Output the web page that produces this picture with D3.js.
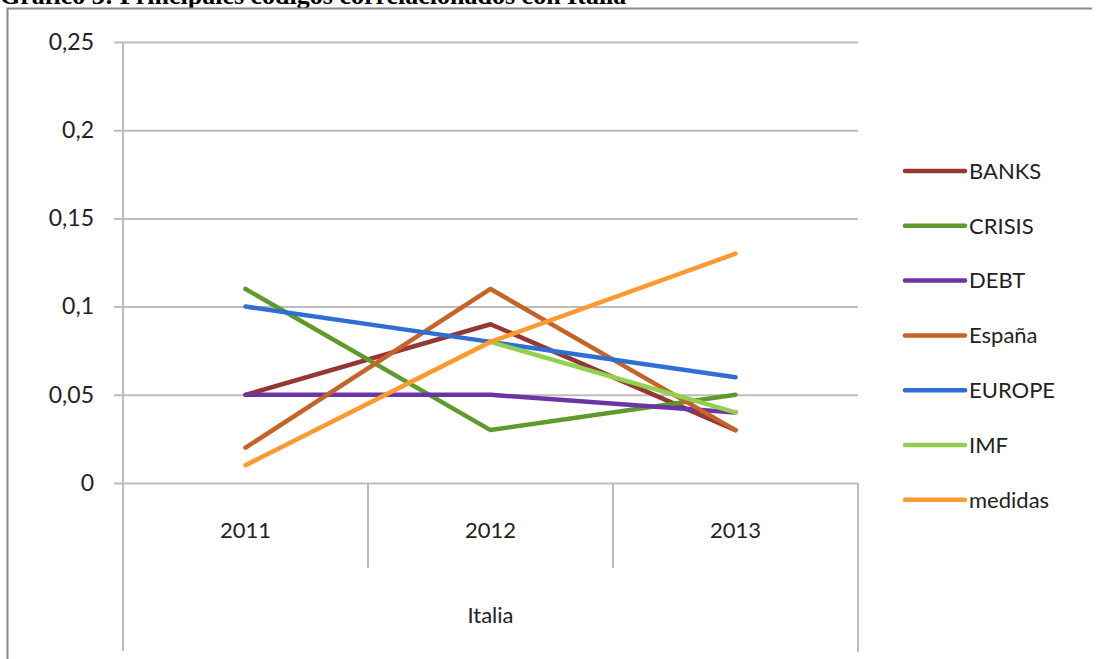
<!DOCTYPE html>
<html>
<head>
<meta charset="utf-8">
<script src="https://cdn.jsdelivr.net/npm/d3@7"></script>
<style>
  body { margin: 0; background: #fff; }
  svg text { font-family: Lato, "Open Sans", sans-serif; fill: #222; }
</style>
</head>
<body>
<svg id="chart" width="1097" height="659"></svg>
<script>
var years = ["2011", "2012", "2013"];
var yTicks = [0, 0.05, 0.1, 0.15, 0.2, 0.25];
var seriesNames = ["BANKS", "CRISIS", "DEBT", "España", "EUROPE", "IMF", "medidas"];
var seriesColors = ["#953735", "#5E9B2C", "#6B35A6", "#C46428", "#2F6ED3", "#92D050", "#FF9933"];
var banks = [0.05, 0.09, 0.03];
var crisis = [0.11, 0.03, 0.05];
var debt = [0.05, 0.05, 0.04];
var espana = [0.02, 0.11, 0.03];
var europe = [0.10, 0.08, 0.06];
var imf = [null, 0.08, 0.04];
var medidas = [0.01, 0.08, 0.13];
var seriesValues = [banks, crisis, debt, espana, europe, imf, medidas];

var svg = d3.select("#chart");

// clipped title of the page above the chart
svg.append("text")
  .attr("x", 0).attr("y", 4)
  .style("font-family", "'Liberation Serif', serif")
  .style("font-weight", "bold")
  .style("font-size", "26px")
  .style("fill", "#000")
  .text("Gráfico 3: Principales códigos correlacionados con Italia");

// outer frame (left + top)
svg.append("path")
  .attr("d", "M7.5,659 V8.5 H1092")
  .attr("fill", "none").attr("stroke", "#8a8a8a").attr("stroke-width", 2);

var plotLeft = 123, plotRight = 858, plotTop = 42, plotBottom = 483;

var x = d3.scaleBand().domain(years).range([plotLeft, plotRight]);
var y = d3.scaleLinear().domain([0, 0.25]).range([plotBottom, plotTop]);

var fmt = function(d) { return String(d).replace(".", ","); };

// gridlines + y labels
var yAxis = d3.axisLeft(y).tickValues(yTicks).tickFormat(fmt)
  .tickSize(-(plotRight - plotLeft) - 9).tickPadding(20);
var gy = svg.append("g").attr("transform", "translate(" + (plotLeft - 9) + ",0)").call(yAxis);
gy.select(".domain").remove();
gy.selectAll(".tick line").attr("stroke", "#bdbdbd").attr("stroke-width", 2);
gy.selectAll(".tick text").style("font-size", "23px").attr("fill", "#333").attr("dy", "0.32em");

// vertical axis line
svg.append("line")
  .attr("x1", plotLeft).attr("x2", plotLeft).attr("y1", plotTop).attr("y2", 651)
  .attr("stroke", "#bdbdbd").attr("stroke-width", 2);

// category dividers
years.forEach(function(yr, i) {
  if (i > 0) {
    svg.append("line")
      .attr("x1", x(yr)).attr("x2", x(yr)).attr("y1", plotBottom).attr("y2", 568)
      .attr("stroke", "#bdbdbd").attr("stroke-width", 2);
  }
  svg.append("text")
    .attr("x", x(yr) + x.bandwidth() / 2).attr("y", 530)
    .attr("text-anchor", "middle").attr("dy", "0.35em")
    .style("font-size", "22px").attr("fill", "#333")
    .text(yr);
});
svg.append("line")
  .attr("x1", plotRight).attr("x2", plotRight).attr("y1", plotBottom).attr("y2", 652)
  .attr("stroke", "#bdbdbd").attr("stroke-width", 2);

svg.append("text")
  .attr("x", (plotLeft + plotRight) / 2).attr("y", 615)
  .attr("text-anchor", "middle").attr("dy", "0.35em")
  .style("font-size", "22px").attr("fill", "#333")
  .text("Italia");

// series lines
var line = d3.line()
  .defined(function(d) { return d != null; })
  .x(function(d, i) { return x(years[i]) + x.bandwidth() / 2; })
  .y(function(d) { return y(d); });

seriesValues.forEach(function(vals, i) {
  svg.append("path")
    .attr("d", line(vals))
    .attr("fill", "none")
    .attr("stroke", seriesColors[i])
    .attr("stroke-width", 4.5)
    .attr("stroke-linecap", "round")
    .attr("stroke-linejoin", "round");
});

// legend
var legend = svg.append("g");
seriesNames.forEach(function(name, i) {
  var ly = 171 + i * 54.8;
  legend.append("line")
    .attr("x1", 905).attr("x2", 965).attr("y1", ly).attr("y2", ly)
    .attr("stroke", seriesColors[i]).attr("stroke-width", 4.5)
    .attr("stroke-linecap", "round");
  legend.append("text")
    .attr("x", 969).attr("y", ly).attr("dy", "0.35em")
    .style("font-size", "22px").attr("fill", "#222")
    .text(name);
});
</script>
</body>
</html>
